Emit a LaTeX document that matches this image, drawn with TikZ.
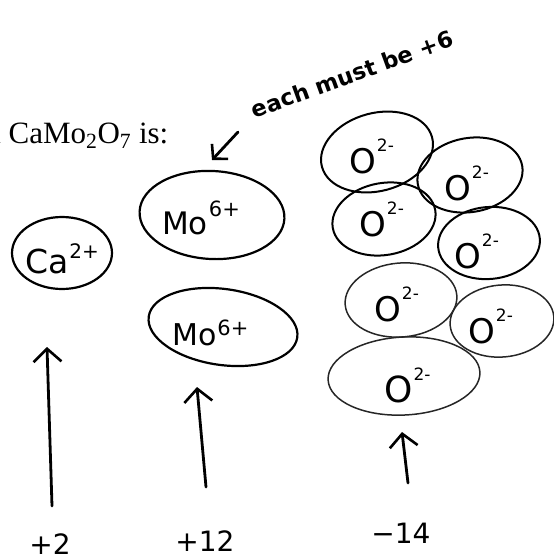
\documentclass[tikz,border=0pt]{standalone}
\usepackage{fontspec}
\setmainfont{Liberation Serif}
\newfontfamily\handfont{DejaVu Sans}
\usetikzlibrary{shapes.geometric,arrows.meta}
\newcommand\myion[5]{{\fontsize{#3}{#3}\selectfont #1}\hspace{1pt}\raisebox{#5}{\fontsize{#4}{#4}\selectfont #2}}
\begin{document}
\begin{tikzpicture}[x=1pt,y=-1pt,
  blob/.style={draw, ellipse, line width=2.2pt, inner sep=0pt},
  oblob/.style={blob, line width=2pt},
  lightblob/.style={blob, line width=1.5pt, draw=black!85},
  handarrow/.style={line width=2.8pt, line cap=round, -{Straight Barb[length=13pt,width=28pt,line width=2.6pt]}},
  smallarrow/.style={line width=2.8pt, line cap=round, -{Straight Barb[length=10pt,width=22pt,line width=2.6pt]}},
  hand/.style={font=\handfont, inner sep=0pt},
  total/.style={hand, font=\handfont\fontsize{28}{28}\selectfont},
]
\useasboundingbox (0,0) rectangle (554,560);

% printed text
\node[anchor=base west, inner sep=0pt, font=\fontsize{31}{31}\selectfont] (title) at (-13,143) {a CaMo\textsubscript{2}O\textsubscript{7} is:};

% handwritten note
\node[hand, rotate=20, font=\handfont\bfseries\fontsize{22.5}{22.5}\selectfont] (note) at (352,74) {each must be +6};
\coordinate (n-tail) at (238,132);
\coordinate (n-tip) at (212,160);
\draw[smallarrow] (n-tail) -- (n-tip);

% cations
\node[blob, minimum width=100pt, minimum height=72pt] (ca) at (62,253) {};
\node[hand, anchor=base west] (catext) at (25,273) {\myion{Ca}{2+}{33pt}{20pt}{15pt}};

\node[blob, minimum width=145pt, minimum height=88pt, rotate=-3] (mo1) at (212,215) {};
\node[hand, anchor=base west] (mo1text) at (162,234) {\myion{Mo}{6+}{31pt}{21pt}{18pt}};

\node[blob, minimum width=150pt, minimum height=76pt, rotate=-8] (mo2) at (223,327) {};
\node[hand, anchor=base west] (mo2text) at (172,345) {\myion{Mo}{6+}{30pt}{21pt}{10pt}};

% oxide ions
\node[oblob, minimum width=114pt, minimum height=78pt, rotate=15] (o1) at (377,152) {};
\node[oblob, minimum width=106pt, minimum height=74pt, rotate=10] (o2) at (470,175) {};
\node[oblob, minimum width=104pt, minimum height=72pt, rotate=10] (o3) at (384,219) {};
\node[oblob, minimum width=102pt, minimum height=72pt, rotate=5] (o4) at (489,243) {};
\node[lightblob, minimum width=112pt, minimum height=74pt, rotate=5] (o5) at (401,300) {};
\node[lightblob, minimum width=104pt, minimum height=72pt, rotate=5] (o6) at (502,321) {};
\node[lightblob, minimum width=152pt, minimum height=78pt, rotate=3] (o7) at (404,376) {};

\node[hand, anchor=base west] (o1t) at (349,173) {\myion{O}{2-}{34pt}{17pt}{22pt}};
\node[hand, anchor=base west] (o2t) at (444,200) {\myion{O}{2-}{34pt}{17pt}{22pt}};
\node[hand, anchor=base west] (o3t) at (359,236) {\myion{O}{2-}{34pt}{17pt}{22pt}};
\node[hand, anchor=base west] (o4t) at (454,268) {\myion{O}{2-}{34pt}{17pt}{22pt}};
\node[hand, anchor=base west] (o5t) at (374,321) {\myion{O}{2-}{34pt}{17pt}{22pt}};
\node[hand, anchor=base west] (o6t) at (468,343) {\myion{O}{2-}{34pt}{17pt}{22pt}};
\node[hand, anchor=base west] (o7t) at (384,402) {\myion{O}{2-}{36pt}{17pt}{22pt}};

% totals
\node[total] (t1) at (50,544) {+2};
\node[total] (t2) at (205,541) {+12};
\node[total] (t3) at (401,533) {−14};

\coordinate (a1-tail) at (52,506);
\coordinate (a1-tip) at (47,347);
\coordinate (a2-tail) at (206,487);
\coordinate (a2-tip) at (197,387);
\coordinate (a3-tail) at (408,483);
\coordinate (a3-tip) at (402,432);
\draw[handarrow] (a1-tail) -- (a1-tip);
\draw[handarrow] (a2-tail) -- (a2-tip);
\draw[handarrow] (a3-tail) -- (a3-tip);
\end{tikzpicture}
\end{document}
